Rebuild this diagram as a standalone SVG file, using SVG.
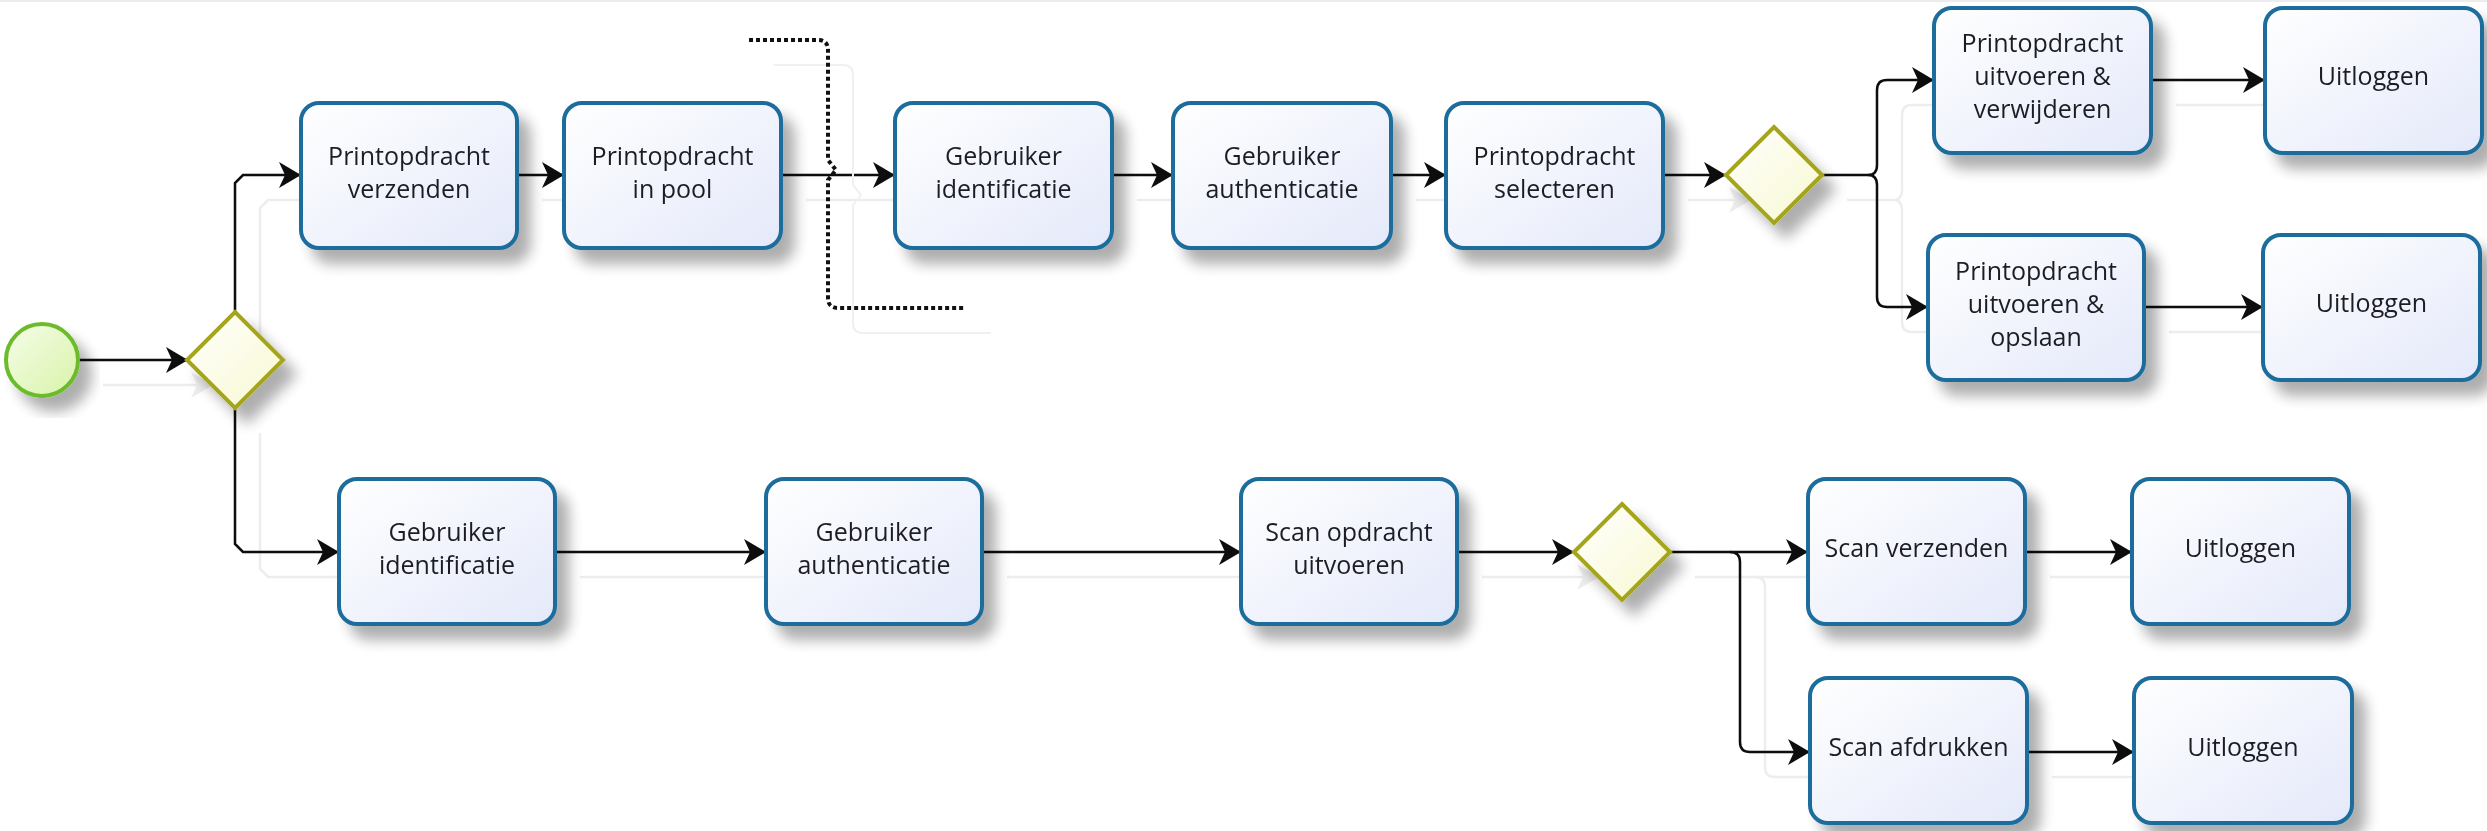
<svg xmlns="http://www.w3.org/2000/svg" width="2487" height="831" viewBox="0 0 2487 831">
<defs>
<linearGradient id="gTask" x1="0" y1="0" x2="1" y2="1">
<stop offset="0" stop-color="#ffffff"/>
<stop offset="1" stop-color="#e4e9fa"/>
</linearGradient>
<linearGradient id="gGw" x1="0" y1="0" x2="1" y2="1">
<stop offset="0" stop-color="#ffffff"/>
<stop offset="1" stop-color="#f8f8d0"/>
</linearGradient>
<linearGradient id="gStart" x1="0" y1="0" x2="1" y2="1">
<stop offset="0" stop-color="#f6fde9"/>
<stop offset="1" stop-color="#d8f3a8"/>
</linearGradient>
<filter id="shadow" x="-20%" y="-20%" width="150%" height="150%">
<feGaussianBlur in="SourceAlpha" stdDeviation="7"/>
<feOffset dx="12" dy="14" result="b"/>
<feComponentTransfer><feFuncA type="linear" slope="0.32"/></feComponentTransfer>
<feMerge><feMergeNode/><feMergeNode in="SourceGraphic"/></feMerge>
</filter>
<filter id="cshadow" filterUnits="userSpaceOnUse" x="0" y="0" width="2487" height="831">
<feColorMatrix in="SourceAlpha" type="matrix" values="0 0 0 0 0  0 0 0 0 0  0 0 0 0 0  0 0 0 0.07 0"/>
<feOffset dx="25" dy="25"/>
<feMerge><feMergeNode/><feMergeNode in="SourceGraphic"/></feMerge>
</filter>
<marker id="arrow" markerUnits="userSpaceOnUse" markerWidth="24" markerHeight="28" refX="22" refY="13" orient="auto">
<path d="M0,0 L22,13 L0,26 L6,13 Z" fill="#111"/>
</marker>
</defs>
<style>
.task rect{fill:url(#gTask);stroke:#1f6d9c;stroke-width:4}
.task text{font-family:"Open Sans","Noto Sans",sans-serif;font-size:25px;fill:#1e1e24;text-anchor:middle}
.gw path{fill:url(#gGw);stroke:#a5a51c;stroke-width:4}
.start circle{fill:url(#gStart);stroke:#6cbb2c;stroke-width:4}
.flow{fill:none;stroke:#111;stroke-width:2.5;marker-end:url(#arrow)}
.annot{fill:none;stroke:#111;stroke-width:4;stroke-dasharray:4 3}
.annotshadow{fill:none;stroke:#f0f0f0;stroke-width:2}
</style>
<rect width="2487" height="831" fill="#ffffff"/>
<line x1="0" y1="1" x2="2487" y2="1" stroke="#ececec" stroke-width="2"/>

<g id="connectors" filter="url(#cshadow)">
<path class="flow" d="M78,360 H188"/>
<path class="flow" d="M235,312 V183 L243,175 H301"/>
<path class="flow" d="M235,408 V544 L243,552 H339"/>
<path class="flow" d="M517,175 H564"/>
<path class="flow" d="M781,175 H895"/>
<path class="flow" d="M1112,175 H1173"/>
<path class="flow" d="M1391,175 H1446"/>
<path class="flow" d="M1663,175 H1726"/>
<path class="flow" d="M1822,175 H1868 Q1877,175 1877,165 V90 Q1877,80 1887,80 H1934"/>
<path class="flow" d="M1868,175 Q1877,175 1877,185 V297 Q1877,307 1887,307 H1928"/>
<path class="flow" d="M2151,80 H2265"/>
<path class="flow" d="M2144,307 H2263"/>
<path class="flow" d="M555,552 H766"/>
<path class="flow" d="M982,552 H1241"/>
<path class="flow" d="M1457,552 H1574"/>
<path class="flow" d="M1670,552 H1808"/>
<path class="flow" d="M1730,552 Q1740,552 1740,562 V742 Q1740,752 1750,752 H1810"/>
<path class="flow" d="M2025,552 H2132"/>
<path class="flow" d="M2027,752 H2134"/>
</g>

<g id="annotation">
<path class="annotshadow" d="M774,65 H843 Q853,65 853,75 V185 L861,195 L853,205 V323 Q853,333 863,333 H991"/>
<path class="annot" d="M749,40 H818 Q828,40 828,50 V160 L836,170 L828,180 V298 Q828,308 838,308 H966"/>
</g>

<g id="start" class="start" filter="url(#shadow)"><circle cx="42" cy="360" r="36"/></g>
<g id="gw1" class="gw" filter="url(#shadow)"><path d="M235,312 L283,360 L235,408 L187,360 Z"/></g>
<g id="gw2" class="gw" filter="url(#shadow)"><path d="M1774,127 L1822,175 L1774,223 L1726,175 Z"/></g>
<g id="gw3" class="gw" filter="url(#shadow)"><path d="M1622,504 L1670,552 L1622,600 L1574,552 Z"/></g>

<g id="t1" class="task" filter="url(#shadow)"><rect x="301" y="103" width="216" height="145" rx="18"/><text x="409" y="165">Printopdracht</text><text x="409" y="198">verzenden</text></g>
<g id="t2" class="task" filter="url(#shadow)"><rect x="564" y="103" width="217" height="145" rx="18"/><text x="672.5" y="165">Printopdracht</text><text x="672.5" y="198">in pool</text></g>
<g id="t3" class="task" filter="url(#shadow)"><rect x="895" y="103" width="217" height="145" rx="18"/><text x="1003.5" y="165">Gebruiker</text><text x="1003.5" y="198">identificatie</text></g>
<g id="t4" class="task" filter="url(#shadow)"><rect x="1173" y="103" width="218" height="145" rx="18"/><text x="1282" y="165">Gebruiker</text><text x="1282" y="198">authenticatie</text></g>
<g id="t5" class="task" filter="url(#shadow)"><rect x="1446" y="103" width="217" height="145" rx="18"/><text x="1554.5" y="165">Printopdracht</text><text x="1554.5" y="198">selecteren</text></g>
<g id="t6" class="task" filter="url(#shadow)"><rect x="1934" y="8" width="217" height="145" rx="18"/><text x="2042.5" y="52">Printopdracht</text><text x="2042.5" y="85">uitvoeren &amp;</text><text x="2042.5" y="118">verwijderen</text></g>
<g id="t7" class="task" filter="url(#shadow)"><rect x="2265" y="8" width="217" height="145" rx="18"/><text x="2373.5" y="85">Uitloggen</text></g>
<g id="t8" class="task" filter="url(#shadow)"><rect x="1928" y="235" width="216" height="145" rx="18"/><text x="2036" y="280">Printopdracht</text><text x="2036" y="313">uitvoeren &amp;</text><text x="2036" y="346">opslaan</text></g>
<g id="t9" class="task" filter="url(#shadow)"><rect x="2263" y="235" width="217" height="145" rx="18"/><text x="2371.5" y="312">Uitloggen</text></g>
<g id="b1" class="task" filter="url(#shadow)"><rect x="339" y="479" width="216" height="145" rx="18"/><text x="447" y="541">Gebruiker</text><text x="447" y="574">identificatie</text></g>
<g id="b2" class="task" filter="url(#shadow)"><rect x="766" y="479" width="216" height="145" rx="18"/><text x="874" y="541">Gebruiker</text><text x="874" y="574">authenticatie</text></g>
<g id="b3" class="task" filter="url(#shadow)"><rect x="1241" y="479" width="216" height="145" rx="18"/><text x="1349" y="541">Scan opdracht</text><text x="1349" y="574">uitvoeren</text></g>
<g id="b4" class="task" filter="url(#shadow)"><rect x="1808" y="479" width="217" height="145" rx="18"/><text x="1916.5" y="557">Scan verzenden</text></g>
<g id="b5" class="task" filter="url(#shadow)"><rect x="2132" y="479" width="217" height="145" rx="18"/><text x="2240.5" y="557">Uitloggen</text></g>
<g id="b6" class="task" filter="url(#shadow)"><rect x="1810" y="678" width="217" height="145" rx="18"/><text x="1918.5" y="756">Scan afdrukken</text></g>
<g id="b7" class="task" filter="url(#shadow)"><rect x="2134" y="678" width="218" height="145" rx="18"/><text x="2243" y="756">Uitloggen</text></g>
</svg>
